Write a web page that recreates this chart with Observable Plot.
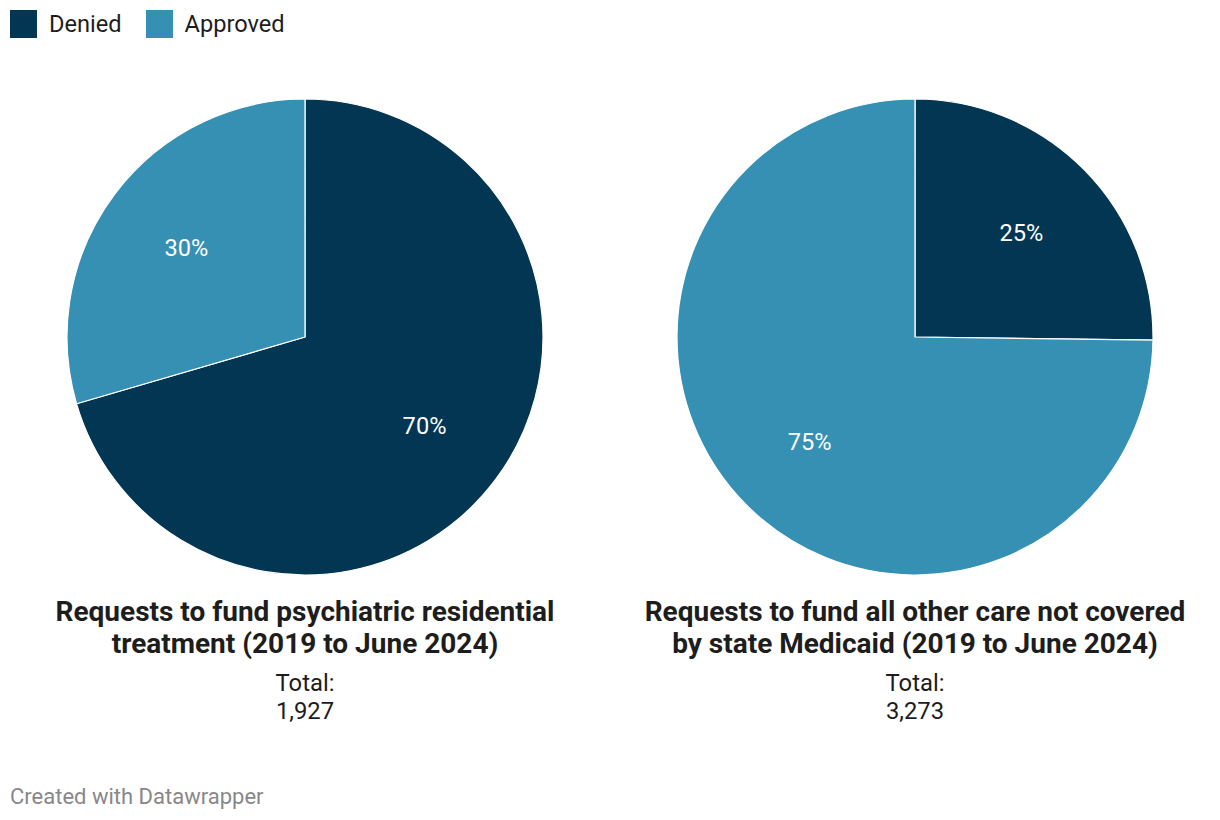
<!DOCTYPE html>
<html>
<head>
<meta charset="utf-8">
<script src="https://cdn.jsdelivr.net/npm/d3@7"></script>
<script src="https://cdn.jsdelivr.net/npm/@observablehq/plot@0.6"></script>
<style>
  html, body { margin: 0; padding: 0; background: #fff; }
  body { width: 1220px; height: 820px; position: relative; font-family: Roboto, "Noto Sans", sans-serif; color: #1d1d1d; overflow: hidden; }
  .legend { position: absolute; left: 10px; top: 10px; display: flex; align-items: center; font-size: 23.6px; line-height: 28px; }
  .legend .sw { width: 27px; height: 28px; display: inline-block; margin-right: 12px; }
  .legend .item { display: flex; align-items: center; margin-right: 24px; }
  .pie { position: absolute; top: 87px; width: 610px; }
  .title { position: absolute; top: 596px; width: 610px; text-align: center; font-weight: 700; font-size: 28px; line-height: 32px; }
  .total { position: absolute; top: 669px; width: 610px; text-align: center; font-size: 23.8px; line-height: 28px; }
  .footer { position: absolute; left: 10px; top: 784px; font-size: 22px; line-height: 26px; color: #888; }
</style>
</head>
<body>
<div class="legend" id="legend"></div>
<div class="pie" id="pie0" style="left:0px"></div>
<div class="pie" id="pie1" style="left:610px"></div>
<div class="title" id="title0" style="left:0px"></div>
<div class="title" id="title1" style="left:610px"></div>
<div class="total" id="total0" style="left:0px"></div>
<div class="total" id="total1" style="left:610px"></div>
<div class="footer">Created with Datawrapper</div>
<script>
// ---- data ----
const categories = ["Denied", "Approved"];
const colors = ["#033653", "#3590b3"];
const chartTitles = [
  ["Requests to fund psychiatric residential", "treatment (2019 to June 2024)"],
  ["Requests to fund all other care not covered", "by state Medicaid (2019 to June 2024)"]
];
const totals = ["1,927", "3,273"];
// estimated counts per category (Denied, Approved)
const psychiatricValues = [1358, 569];
const otherCareValues = [825, 2448];
const pieValues = [psychiatricValues, otherCareValues];

// legend
const legend = document.getElementById("legend");
categories.forEach((c, i) => {
  const item = document.createElement("div");
  item.className = "item";
  item.innerHTML = `<span class="sw" style="background:${colors[i]}"></span><span>${c}</span>`;
  legend.appendChild(item);
});

const unitPx = 238;
const W = 610, H = 500;

pieValues.forEach((vals, k) => {
  const rows = categories.map((c, i) => ({category: c, value: vals[i]}));
  const arcs = d3.pie().sort(null).value(d => d.value)(rows);
  const total = d3.sum(vals);
  const labels = arcs.map(a => {
    const mid = (a.startAngle + a.endAngle) / 2;
    return {
      x: 0.625 * Math.sin(mid),
      y: 0.625 * Math.cos(mid),
      text: Math.round(a.data.value / total * 100) + "%"
    };
  });

  const pieMark = (index, scales, values, dimensions) => {
    const cx = scales.x(0), cy = scales.y(0);
    const r = Math.abs(scales.x(1) - scales.x(0));
    const arcGen = d3.arc().innerRadius(0).outerRadius(r);
    const g = d3.create("svg:g").attr("transform", `translate(${cx},${cy})`);
    g.selectAll("path").data(arcs).join("path")
      .attr("d", arcGen)
      .attr("fill", d => scales.color(d.data.category))
      .attr("stroke", "#ffffff")
      .attr("stroke-width", 1.2)
      .attr("stroke-linejoin", "round");
    return g.node();
  };

  const chart = Plot.plot({
    width: W,
    height: H,
    margin: 0,
    x: {domain: [-(W / 2) / unitPx, (W / 2) / unitPx], axis: null},
    y: {domain: [-(H / 2) / unitPx, (H / 2) / unitPx], axis: null},
    color: {domain: categories, range: colors},
    style: {fontFamily: "Roboto, sans-serif", background: "transparent", overflow: "visible"},
    marks: [
      pieMark,
      Plot.text(labels, {x: "x", y: "y", text: "text", fill: "white", fontSize: 23.6, fontFamily: "Roboto"})
    ]
  });
  document.getElementById("pie" + k).appendChild(chart);
  document.getElementById("title" + k).innerHTML = chartTitles[k].join("<br>");
  document.getElementById("total" + k).innerHTML = "Total:<br>" + totals[k];
});
</script>
</body>
</html>
